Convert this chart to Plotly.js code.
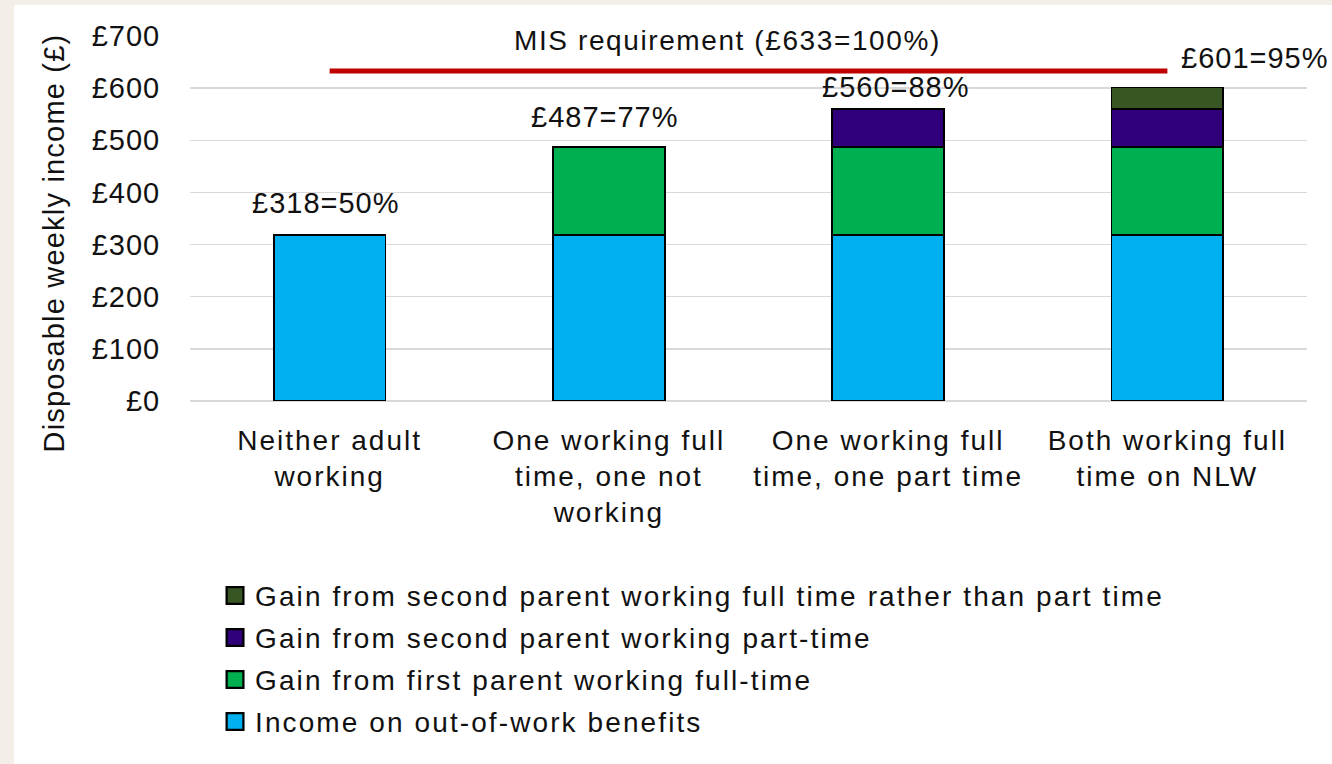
<!DOCTYPE html>
<html>
<head>
<meta charset="utf-8">
<script src="https://cdn.plot.ly/plotly-3.0.1.min.js"></script>
<style>
  html, body { margin: 0; padding: 0; background: #f3efe8; width: 1332px; height: 764px; overflow: hidden; }
  #chart { position: absolute; left: 14px; top: 5px; width: 1318px; height: 759px; background: #ffffff; }
  .legendtext { letter-spacing: 2.1px; }
  .annotation-text { letter-spacing: 1px; }
  .xtick text { letter-spacing: 2px; }
  .ytick text { letter-spacing: 1px; }
  .legendpoints path { transform: translate(20px, 0px) scale(1.4); }
</style>
</head>
<body>
<div id="chart"></div>
<script>
// ---- data ----
const categories = [
  'Neither adult<br>working',
  'One working full<br>time, one not<br>working',
  'One working full<br>time, one part time',
  'Both working full<br>time on NLW'
];
const seriesNames = [
  'Income on out-of-work benefits',
  'Gain from first parent working full-time',
  'Gain from second parent working part-time',
  'Gain from second parent working full time rather than part time'
];
const outOfWorkBenefits   = [318, 318, 318, 318];
const firstParentFullTime = [null, 169, 169, 169];
const secondParentPartTime = [null, null, 73, 73];
const secondParentFullVsPart = [null, null, null, 41];
const misRequirement = 633;
const misLabel = 'MIS requirement (£633=100%)';
const yTitle = 'Disposable weekly income (£)';
const yTickValues = [0, 100, 200, 300, 400, 500, 600, 700];
const yTickLabels = ['£0', '£100', '£200', '£300', '£400', '£500', '£600', '£700'];

// ---- styles ----
const colors = ['#00b0f0', '#00b050', '#30007a', '#375623'];
const FONT = 'Liberation Sans, Arial, sans-serif';
const TXT = '#111111';

const seriesValues = [outOfWorkBenefits, firstParentFullTime, secondParentPartTime, secondParentFullVsPart];

const traces = seriesValues.map((vals, i) => ({
  type: 'bar',
  name: seriesNames[i],
  x: categories,
  y: vals,
  legendgroup: 'g' + i,
  legendrank: 100 - i,
  marker: { color: colors[i], line: { color: '#000000', width: 1.6 } },
  hoverinfo: 'skip'
}));

// MIS requirement line from first to last category
traces.push({
  type: 'scatter',
  mode: 'lines',
  x: [categories[0], categories[categories.length - 1]],
  y: [misRequirement, misRequirement],
  line: { color: '#c00000', width: 5 },
  showlegend: false,
  hoverinfo: 'skip'
});

// totals
const totals = categories.map((c, i) =>
  seriesValues.reduce((s, arr) => s + (arr[i] || 0), 0));

// label placement offsets (px)
const labelShift = [
  { x: -4, y: 14 },
  { x: -4, y: 12 },
  { x: 8, y: 4 },
  { x: 88, y: 12 }
];

const annotations = totals.map((t, i) => ({
  x: categories[i], y: t, xref: 'x', yref: 'y',
  text: '£' + t + '=' + Math.round(t / misRequirement * 100) + '%',
  showarrow: false,
  xanchor: 'center', yanchor: 'bottom',
  xshift: labelShift[i].x, yshift: labelShift[i].y,
  font: { family: FONT, size: 29, color: TXT }
}));

annotations.push({
  x: 0.481, xref: 'paper', y: 692, yref: 'y',
  text: '<span style="letter-spacing:1.6px">' + misLabel + '</span>', showarrow: false,
  xanchor: 'center', yanchor: 'middle',
  bgcolor: '#ffffff', borderpad: 0,
  font: { family: FONT, size: 28, color: TXT }
});

annotations.push({
  x: -0.1209, xref: 'paper', y: 304, yref: 'y',
  text: '<span style="letter-spacing:1.2px">' + yTitle + '</span>', showarrow: false,
  textangle: -90, xanchor: 'center', yanchor: 'middle',
  font: { family: FONT, size: 29, color: TXT }
});

const layout = {
  width: 1318, height: 759,
  margin: { l: 176, r: 25, t: 31, b: 363, pad: 0 },
  paper_bgcolor: '#ffffff', plot_bgcolor: '#ffffff',
  barmode: 'stack', bargap: 0.6,
  font: { family: FONT, size: 28, color: TXT },
  showlegend: true,
  legend: {
    x: 0.0224, xanchor: 'left', y: -0.465, yanchor: 'top',
    traceorder: 'grouped', tracegroupgap: 2.6,
    font: { family: FONT, size: 28, color: TXT },
    bgcolor: 'rgba(0,0,0,0)', borderwidth: 0
  },
  xaxis: {
    type: 'category',
    range: [-0.5, 3.5],
    showgrid: false, showline: false, zeroline: false,
    ticks: 'outside', ticklen: 14, tickcolor: 'rgba(0,0,0,0)',
    tickfont: { family: FONT, size: 28, color: TXT },
    fixedrange: true
  },
  yaxis: {
    range: [0, 700],
    tickmode: 'array',
    tickvals: yTickValues,
    ticktext: yTickLabels,
    showgrid: true, gridcolor: '#d9d9d9', gridwidth: 1.5,
    zeroline: true, zerolinecolor: '#d9d9d9', zerolinewidth: 1.5,
    showline: false,
    ticks: 'outside', ticklen: 23, tickcolor: 'rgba(0,0,0,0)',
    tickfont: { family: FONT, size: 29, color: TXT },
    fixedrange: true
  },
  annotations: annotations
};

Plotly.newPlot('chart', traces, layout, { staticPlot: true, displayModeBar: false });
</script>
</body>
</html>
